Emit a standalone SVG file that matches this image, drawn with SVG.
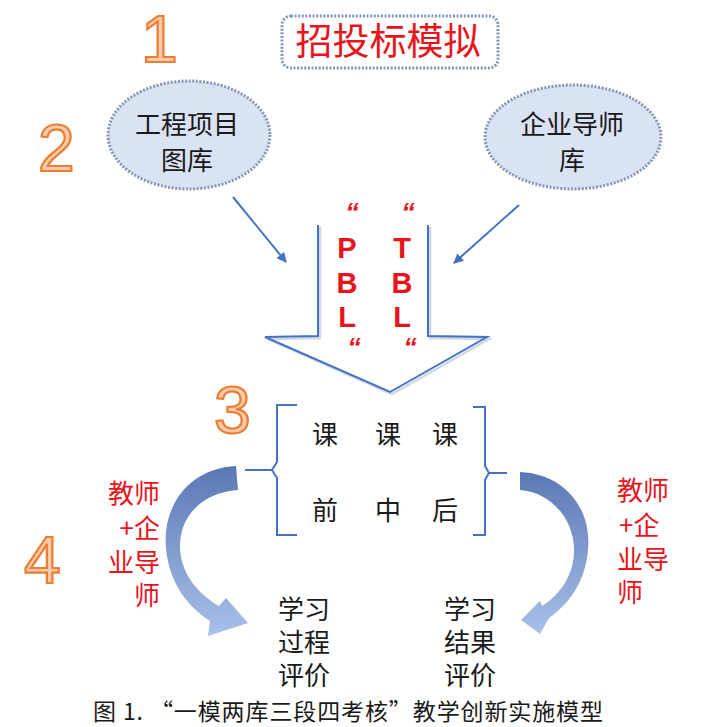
<svg xmlns="http://www.w3.org/2000/svg" width="721" height="727" viewBox="0 0 721 727">
<style>
.num{font-family:"Liberation Sans",Arial,sans-serif;font-size:66px;fill:#F8CBAD;stroke:#ED7D31;stroke-width:2.2;}
.cjk{font-family:"Noto Sans CJK SC","Noto Sans",sans-serif;}
.blk{fill:#1a1a1a;font-size:26px;}
.red{fill:#E8141B;font-size:26px;}
.dot{fill:#DAE3F3;stroke:#8496B0;stroke-width:3;stroke-dasharray:2 1.6;}
.ln{fill:none;stroke:#4472C4;stroke-width:2;}
.lt{font-family:"Liberation Sans",Arial,sans-serif;font-weight:bold;fill:#E8141B;font-size:29px;text-anchor:middle;}
.q{font-family:"Liberation Sans",Arial,sans-serif;font-weight:bold;font-style:italic;fill:#E8141B;font-size:27px;text-anchor:middle;}
</style>
<defs>
<marker id="ah" viewBox="0 0 10 10" refX="9" refY="5" markerWidth="5" markerHeight="5" orient="auto">
<path d="M0 0 L10 5 L0 10 Z" fill="#4472C4"/>
</marker>
<linearGradient id="gl" x1="0" y1="0" x2="0" y2="1">
<stop offset="0" stop-color="#5A78B4"/>
<stop offset="1" stop-color="#A8C0EA"/>
</linearGradient>
</defs>
<rect width="721" height="727" fill="#ffffff"/>

<g id="n1"><text class="num" x="141" y="62">1</text></g>
<g id="n2"><text class="num" x="38" y="171">2</text></g>
<g id="n3"><text class="num" x="214" y="433">3</text></g>
<g id="n4"><text class="num" x="24" y="583">4</text></g>

<g id="title">
<rect x="282" y="16" width="216" height="52" rx="9" fill="#ffffff" stroke="#8496B0" stroke-width="3" stroke-dasharray="2 1.6"/>
<text class="cjk" x="388" y="55" font-size="37" fill="#E8141B" text-anchor="middle">招投标模拟</text>
</g>

<g id="lib1">
<ellipse class="dot" cx="189" cy="135" rx="81" ry="54"/>
<text class="cjk blk" text-anchor="middle" font-size="27"><tspan x="187" y="134">工程项目</tspan><tspan x="187" y="170">图库</tspan></text>
</g>

<g id="lib2">
<ellipse class="dot" cx="573" cy="137" rx="88" ry="52"/>
<text class="cjk blk" text-anchor="middle" font-size="28"><tspan x="572" y="134">企业导师</tspan><tspan x="572" y="170">库</tspan></text>
</g>

<g id="connectors">
<line class="ln" x1="233" y1="197" x2="286" y2="262" marker-end="url(#ah)"/>
<line class="ln" x1="519" y1="205" x2="454" y2="263" marker-end="url(#ah)"/>
</g>

<g id="bigarrow">
<path d="M320 227 L320 338 L268 339 L392 394 L489 339 L430 338 L430 227" fill="none" stroke="#D0D6E2" stroke-width="2.5"/>
<path class="ln" d="M318 225 L318 336 L265 337 L390 392 L487 337 L428 336 L428 225"/>
<text class="q" x="352" y="222">“</text>
<text class="q" x="408" y="222">“</text>
<text class="lt"><tspan x="347" y="258">P</tspan><tspan x="347" y="293">B</tspan><tspan x="347" y="327">L</tspan></text>
<text class="lt"><tspan x="402" y="258">T</tspan><tspan x="402" y="293">B</tspan><tspan x="402" y="327">L</tspan></text>
<text class="q" x="354" y="357">“</text>
<text class="q" x="410" y="357">“</text>
</g>

<g id="stages">
<path class="ln" d="M297 405 L277 405 L277 462 L272 470 L277 478 L277 535 L297 535"/>
<line class="ln" x1="245" y1="470" x2="272" y2="470"/>
<path class="ln" d="M473 407 L485 407 L485 466 L489 473 L485 480 L485 535 L473 535"/>
<line class="ln" x1="489" y1="473" x2="507" y2="473"/>
<text class="cjk blk" text-anchor="middle" font-size="27"><tspan x="325" y="444">课</tspan><tspan x="388" y="444">课</tspan><tspan x="445" y="444">课</tspan></text>
<text class="cjk blk" text-anchor="middle" font-size="27"><tspan x="325" y="520">前</tspan><tspan x="388" y="520">中</tspan><tspan x="445" y="520">后</tspan></text>
</g>

<g id="leftloop">
<path d="M236 466 C190 468 162 505 166 548 C169 583 188 607 210 621 L208 636 L248 623 L226 598 L219 606 C198 594 180 573 180 546 C180 514 205 492 238 490 Z" fill="url(#gl)"/>
<text class="cjk red" text-anchor="end"><tspan x="160" y="503">教师</tspan><tspan x="160" y="538">+企</tspan><tspan x="160" y="572">业导</tspan><tspan x="160" y="605">师</tspan></text>
</g>

<g id="rightloop">
<path d="M520 472 C566 474 592 510 588 550 C585 585 566 606 549 618 L540 634 L521 620 L540 601 L542 606 C562 594 575 572 574 548 C573 518 550 492 520 490 Z" fill="url(#gl)"/>
<text class="cjk red"><tspan x="617" y="500">教师</tspan><tspan x="619" y="535">+企</tspan><tspan x="617" y="569">业导</tspan><tspan x="617" y="602">师</tspan></text>
</g>

<g id="eval1">
<text class="cjk blk" text-anchor="middle"><tspan x="304" y="619">学习</tspan><tspan x="304" y="652">过程</tspan><tspan x="304" y="685">评价</tspan></text>
</g>
<g id="eval2">
<text class="cjk blk" text-anchor="middle"><tspan x="470" y="619">学习</tspan><tspan x="470" y="652">结果</tspan><tspan x="470" y="685">评价</tspan></text>
</g>

<g id="caption">
<text class="cjk" x="93" y="720" font-size="23" fill="#1a1a1a" textLength="510" lengthAdjust="spacing">图 1. “一模两库三段四考核”教学创新实施模型</text>
</g>
</svg>
